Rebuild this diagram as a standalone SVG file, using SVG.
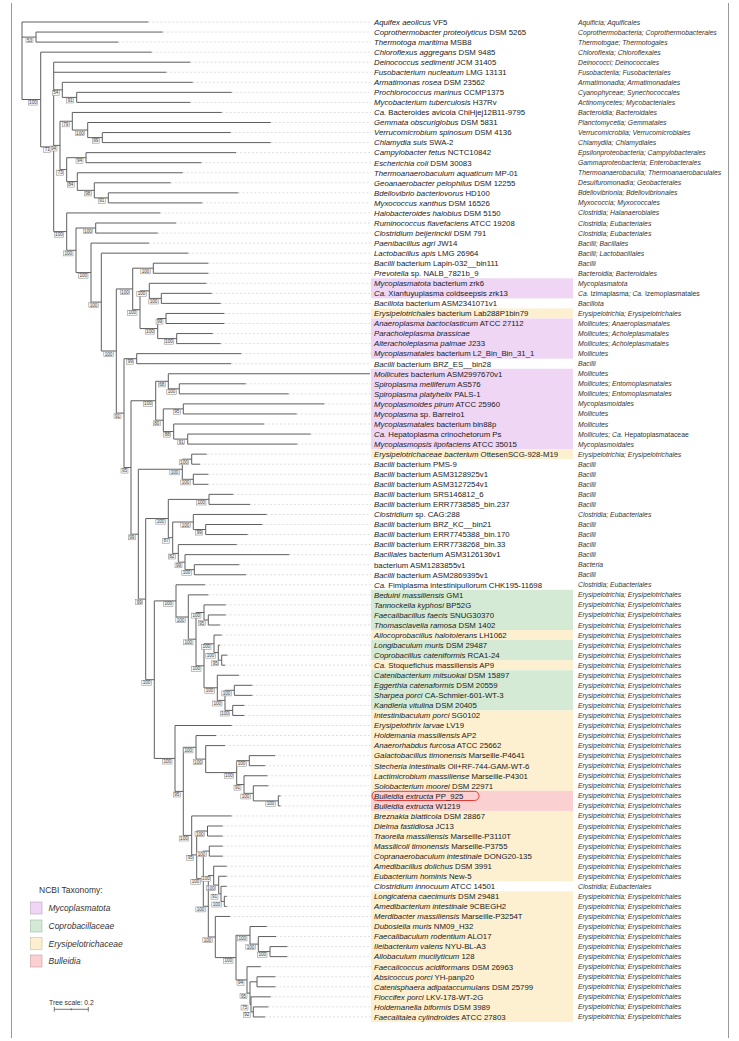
<svg xmlns="http://www.w3.org/2000/svg" width="739" height="1041" viewBox="0 0 739 1041">
<defs>
<style>
.br{stroke:#5e5e5e;stroke-width:1;fill:none}
.ld{stroke:#c9c9c9;stroke-width:0.6;stroke-dasharray:2 2;fill:none}
.nm{font-family:"Liberation Sans",Arial,sans-serif;font-size:7.8px;fill:#1a1a1a}
.tx{font-family:"Liberation Sans",Arial,sans-serif;font-size:6.8px;font-style:italic;fill:#333}
.i{font-style:italic}
.r{font-style:normal}
.hp{fill:#efd6f4}
.hg{fill:#d4ead4}
.hy{fill:#fdf0d0}
.hr{fill:#fbd0d0}
.bs rect{fill:#f6f6f6;stroke:#888;stroke-width:0.5}
.bs text{font-family:"Liberation Sans",Arial,sans-serif;font-size:4.6px;fill:#444;text-anchor:middle}
.lg{font-family:"Liberation Sans",Arial,sans-serif;font-size:8.5px;fill:#333}
.frame{stroke:#999;stroke-width:1;fill:none}
</style>
</defs>
<rect width="739" height="1041" fill="#ffffff"/>
<path class="frame" d="M11.5,3V1038M728.5,3V1038"/>
<g id="highlights">
<rect class="hp" x="371" y="278.28" width="202" height="20.1"/>
<rect class="hy" x="371" y="308.43" width="202" height="10.05"/>
<rect class="hp" x="371" y="318.48" width="202" height="40.2"/>
<rect class="hp" x="371" y="368.73" width="202" height="80.4"/>
<rect class="hy" x="371" y="449.13" width="202" height="10.05"/>
<rect class="hg" x="371" y="589.83" width="202" height="40.2"/>
<rect class="hy" x="371" y="630.03" width="202" height="10.05"/>
<rect class="hg" x="371" y="640.08" width="202" height="20.1"/>
<rect class="hy" x="371" y="660.18" width="202" height="10.05"/>
<rect class="hg" x="371" y="670.23" width="202" height="40.2"/>
<rect class="hy" x="371" y="710.43" width="202" height="80.4"/>
<rect class="hr" x="371" y="790.83" width="202" height="20.1"/>
<rect class="hy" x="371" y="810.93" width="202" height="70.35"/>
<rect class="hy" x="371" y="891.33" width="202" height="130.65"/>
<rect x="372" y="791.3" width="107" height="9.2" rx="4.5" fill="none" stroke="#e53935" stroke-width="1"/>
</g>
<g id="connectors">
<path class="ld" d="M148.3,22H371M162.7,32.05H371M118.3,42.1H371M151.7,52.15H371M190.3,62.2H371M166.3,72.25H371M192.7,82.3H371M231.7,92.35H371M190.3,102.4H371M221.7,112.45H371M270.7,122.5H371M230.7,132.55H371M270.7,142.6H371M236,152.65H371M201.3,162.7H371M182.7,172.75H371M170.7,182.8H371M238.3,192.85H371M202.3,202.9H371M160.3,212.95H371M176,223H371M157.7,233.05H371M149,243.1H371M188.3,253.15H371M208.3,263.2H371M208.3,273.25H371M206.3,283.3H371M211.7,293.35H371M220.7,303.4H371M224.3,313.45H371M224.3,323.5H371M212.7,333.55H371M220.7,343.6H371M241.3,353.65H371M231,363.7H371M245.7,383.8H371M288.7,393.85H371M324.3,403.9H371M296.7,413.95H371M264,424H371M310.7,434.05H371M297.3,444.1H371M206.7,454.15H371M200,464.2H371M208.3,474.25H371M208.3,484.3H371M233.3,494.35H371M250,504.4H371M266.7,514.45H371M262.3,524.5H371M247.7,534.55H371M236.7,544.6H371M289.3,554.65H371M239.3,564.7H371M246,574.75H371M205,584.8H371M208.3,594.85H371M225.7,604.9H371M225.7,614.95H371M220,625H371M221.7,635.05H371M220,645.1H371M227.3,655.15H371M225,665.2H371M239,675.25H371M252.3,685.3H371M252.3,695.35H371M244.3,705.4H371M244.3,715.45H371M231.7,725.5H371M216,735.55H371M225,745.6H371M275,755.65H371M265,765.7H371M267.3,775.75H371M268.3,785.8H371M280.5,795.85H371M280.5,805.9H371M231.7,815.95H371M222.7,826H371M222.7,836.05H371M222.7,846.1H371M222.7,856.15H371M226.7,866.2H371M226.7,876.25H371M226.7,886.3H371M226.7,896.35H371M226.7,906.4H371M230,916.45H371M266.7,926.5H371M276,936.55H371M287.3,946.6H371M287.3,956.65H371M260.7,966.7H371M275.3,976.75H371M275.3,986.8H371M270.7,996.85H371M268.3,1006.9H371M265,1016.95H371"/>
<path class="br" d="M22,22V99.5M22,22H148.3M22,37.1H36M22,99.5H40.7"/>
<path class="br" d="M36,32.05V42.1M36,32.05H162.7M36,42.1H118.3"/>
<path class="br" d="M40.7,52.15V146.9M40.7,52.15H151.7M40.7,146.9H53.7"/>
<path class="br" d="M53.7,62.2V231.6M53.7,62.2H190.3M53.7,72.25H166.3M53.7,89.85H62.3M53.7,145.4H60M53.7,231.6H66.7"/>
<path class="br" d="M62.3,82.3V97.4M62.3,82.3H192.7M62.3,97.4H76.7"/>
<path class="br" d="M76.7,92.35V102.4M76.7,92.35H231.7M76.7,102.4H190.3"/>
<path class="br" d="M60,121.25V169.6M60,121.25H72.3M60,169.6H66.7"/>
<path class="br" d="M72.3,112.45V130.05M72.3,112.45H221.7M72.3,130.05H87.7"/>
<path class="br" d="M87.7,122.5V137.6M87.7,122.5H270.7M87.7,137.6H102.3"/>
<path class="br" d="M102.3,132.55V142.6M102.3,132.55H230.7M102.3,142.6H270.7"/>
<path class="br" d="M66.7,157.7V181.55M66.7,157.7H86M66.7,181.55H77.3"/>
<path class="br" d="M86,152.65V162.7M86,152.65H236M86,162.7H201.3"/>
<path class="br" d="M77.3,172.75V190.35M77.3,172.75H182.7M77.3,190.35H94.3"/>
<path class="br" d="M94.3,182.8V197.9M94.3,182.8H170.7M94.3,197.9H108.3"/>
<path class="br" d="M108.3,192.85V202.9M108.3,192.85H238.3M108.3,202.9H202.3"/>
<path class="br" d="M66.7,212.95V250.3M66.7,212.95H160.3M66.7,250.3H76"/>
<path class="br" d="M76,228V272.6M76,228H95.7M76,272.6H91"/>
<path class="br" d="M95.7,223V233.05M95.7,223H176M95.7,233.05H157.7"/>
<path class="br" d="M91,243.1V302.1M91,243.1H149M91,302.1H101.3"/>
<path class="br" d="M101.3,253.15V351M101.3,253.15H188.3M101.3,351H116.3"/>
<path class="br" d="M116.3,288.95V413.1M116.3,288.95H132.7M116.3,413.1H124"/>
<path class="br" d="M132.7,268.2V309.7M132.7,268.2H153.3M132.7,309.7H140"/>
<path class="br" d="M153.3,263.2V273.25M153.3,263.2H208.3M153.3,273.25H208.3"/>
<path class="br" d="M140,290.85V328.55M140,290.85H149.3M140,328.55H157.7"/>
<path class="br" d="M149.3,283.3V298.4M149.3,283.3H206.3M149.3,298.4H161.3"/>
<path class="br" d="M161.3,293.35V303.4M161.3,293.35H211.7M161.3,303.4H220.7"/>
<path class="br" d="M157.7,318.5V338.6M157.7,318.5H166M157.7,338.6H176.7"/>
<path class="br" d="M166,313.45V323.5M166,313.45H224.3M166,323.5H224.3"/>
<path class="br" d="M176.7,333.55V343.6M176.7,333.55H212.7M176.7,343.6H220.7"/>
<path class="br" d="M124,358.7V467.5M124,358.7H136.7M124,467.5H131"/>
<path class="br" d="M136.7,353.65V363.7M136.7,353.65H241.3M136.7,363.7H231"/>
<path class="br" d="M131,400.75V534.2M131,400.75H155.7M131,534.2H138.3"/>
<path class="br" d="M155.7,381.3V420.2M155.7,381.3H168.3M155.7,420.2H163.3"/>
<path class="br" d="M168.3,373.75V388.8M168.3,373.75H370M168.3,388.8H179.3"/>
<path class="br" d="M179.3,383.8V393.85M179.3,383.8H245.7M179.3,393.85H288.7"/>
<path class="br" d="M163.3,408.9V431.55M163.3,408.9H183.3M163.3,431.55H173.7"/>
<path class="br" d="M183.3,403.9V413.95M183.3,403.9H324.3M183.3,413.95H296.7"/>
<path class="br" d="M173.7,424V439.1M173.7,424H264M173.7,439.1H187.7"/>
<path class="br" d="M187.7,434.05V444.1M187.7,434.05H310.7M187.7,444.1H297.3"/>
<path class="br" d="M138.3,469.25V599.1M138.3,469.25H182.3M138.3,599.1H145.7"/>
<path class="br" d="M182.3,459.2V479.3M182.3,459.2H191.7M182.3,479.3H193.3"/>
<path class="br" d="M191.7,454.15V464.2M191.7,454.15H206.7M191.7,464.2H200"/>
<path class="br" d="M193.3,474.25V484.3M193.3,474.25H208.3M193.3,484.3H208.3"/>
<path class="br" d="M145.7,518.55V679.7M145.7,518.55H168.3M145.7,679.7H154.3"/>
<path class="br" d="M168.3,499.4V537.7M168.3,499.4H209M168.3,537.7H172.7"/>
<path class="br" d="M209,494.35V504.4M209,494.35H233.3M209,504.4H250"/>
<path class="br" d="M172.7,522V553.4M172.7,522H193.3M172.7,553.4H178.3"/>
<path class="br" d="M193.3,514.45V529.5M193.3,514.45H266.7M193.3,529.5H205.7"/>
<path class="br" d="M205.7,524.5V534.55M205.7,524.5H262.3M205.7,534.55H247.7"/>
<path class="br" d="M178.3,544.6V562.2M178.3,544.6H236.7M178.3,562.2H185"/>
<path class="br" d="M185,554.65V569.7M185,554.65H289.3M185,569.7H194.3"/>
<path class="br" d="M194.3,564.7V574.75M194.3,564.7H239.3M194.3,574.75H246"/>
<path class="br" d="M154.3,600.9V758.45M154.3,600.9H176M154.3,758.45H175"/>
<path class="br" d="M176,584.8V617M176,584.8H205M176,617H188.3"/>
<path class="br" d="M188.3,594.85V639.2M188.3,594.85H208.3M188.3,639.2H196"/>
<path class="br" d="M196,612.5V665.8M196,612.5H204M196,665.8H204"/>
<path class="br" d="M204,604.9V620M204,604.9H225.7M204,620H208.3"/>
<path class="br" d="M208.3,614.95V625M208.3,614.95H225.7M208.3,625H220"/>
<path class="br" d="M204,643.8V687.8M204,643.8H214M204,687.8H217.3"/>
<path class="br" d="M214,635.05V652.6M214,635.05H221.7M214,652.6H218.3"/>
<path class="br" d="M218.3,645.1V660.2M218.3,645.1H220M218.3,660.2H221.7"/>
<path class="br" d="M221.7,655.15V665.2M221.7,655.15H227.3M221.7,665.2H225"/>
<path class="br" d="M217.3,675.25V700.4M217.3,675.25H239M217.3,700.4H225"/>
<path class="br" d="M225,690.3V710.4M225,690.3H234.3M225,710.4H232.7"/>
<path class="br" d="M234.3,685.3V695.35M234.3,685.3H252.3M234.3,695.35H252.3"/>
<path class="br" d="M232.7,705.4V715.45M232.7,705.4H244.3M232.7,715.45H244.3"/>
<path class="br" d="M175,725.5V791.4M175,725.5H231.7M175,791.4H183.3"/>
<path class="br" d="M183.3,747.3V835.4M183.3,747.3H196M183.3,835.4H191.7"/>
<path class="br" d="M196,735.55V759.1M196,735.55H216M196,759.1H205.7"/>
<path class="br" d="M205.7,745.6V772.6M205.7,745.6H225M205.7,772.6H236.7"/>
<path class="br" d="M236.7,760.7V784.55M236.7,760.7H249.3M236.7,784.55H244"/>
<path class="br" d="M249.3,755.65V765.7M249.3,755.65H275M249.3,765.7H265"/>
<path class="br" d="M244,775.75V793.35M244,775.75H267.3M244,793.35H253.3"/>
<path class="br" d="M253.3,785.8V800.9M253.3,785.8H268.3M253.3,800.9H278.3"/>
<path class="br" d="M278.3,795.85V805.9M278.3,795.85H280.5M278.3,805.9H280.5"/>
<path class="br" d="M191.7,815.95V854.9M191.7,815.95H231.7M191.7,854.9H196.7"/>
<path class="br" d="M196.7,831V878.7M196.7,831H207.5M196.7,878.7H203.3"/>
<path class="br" d="M207.5,826V836.05M207.5,826H222.7M207.5,836.05H222.7"/>
<path class="br" d="M203.3,851.1V906.3M203.3,851.1H209.3M203.3,906.3H208.3"/>
<path class="br" d="M209.3,846.1V856.15M209.3,846.1H222.7M209.3,856.15H222.7"/>
<path class="br" d="M208.3,875.6V937M208.3,875.6H213.7M208.3,937H215.3"/>
<path class="br" d="M213.7,866.2V885.05M213.7,866.2H226.7M213.7,885.05H218.7"/>
<path class="br" d="M218.7,876.25V893.85M218.7,876.25H226.7M218.7,893.85H221"/>
<path class="br" d="M221,886.3V901.4M221,886.3H226.7M221,901.4H224.3"/>
<path class="br" d="M224.3,896.35V906.4M224.3,896.35H226.7M224.3,906.4H226.7"/>
<path class="br" d="M215.3,916.45V957.6M215.3,916.45H230M215.3,957.6H236"/>
<path class="br" d="M236,935.3V979.9M236,935.3H250M236,979.9H247"/>
<path class="br" d="M250,926.5V944.1M250,926.5H266.7M250,944.1H258.3"/>
<path class="br" d="M258.3,936.55V951.6M258.3,936.55H276M258.3,951.6H270"/>
<path class="br" d="M270,946.6V956.65M270,946.6H287.3M270,956.65H287.3"/>
<path class="br" d="M247,966.7V993.1M247,966.7H260.7M247,993.1H250"/>
<path class="br" d="M250,981.8V1004.4M250,981.8H257M250,1004.4H251"/>
<path class="br" d="M257,976.75V986.8M257,976.75H275.3M257,986.8H275.3"/>
<path class="br" d="M251,996.85V1011.9M251,996.85H270.7M251,1011.9H253.3"/>
<path class="br" d="M253.3,1006.9V1016.95M253.3,1006.9H268.3M253.3,1016.95H265"/>
</g>
<g id="support" class="bs">
<g transform="translate(36,37.1)"><rect x="-10" y="0.6" width="7" height="5"/><text x="-6.5" y="4.6">53</text></g>
<g transform="translate(40.7,99.5)"><rect x="-12.5" y="0.6" width="9.5" height="5"/><text x="-7.75" y="4.6">100</text></g>
<g transform="translate(53.7,146.9)"><rect x="-10" y="0.6" width="7" height="5"/><text x="-6.5" y="4.6">71</text></g>
<g transform="translate(62.3,89.85)"><rect x="-10" y="0.6" width="7" height="5"/><text x="-6.5" y="4.6">54</text></g>
<g transform="translate(76.7,97.4)"><rect x="-10" y="0.6" width="7" height="5"/><text x="-6.5" y="4.6">91</text></g>
<g transform="translate(60,145.4)"><rect x="-10" y="0.6" width="7" height="5"/><text x="-6.5" y="4.6">94</text></g>
<g transform="translate(72.3,121.25)"><rect x="-10" y="0.6" width="7" height="5"/><text x="-6.5" y="4.6">79</text></g>
<g transform="translate(87.7,130.05)"><rect x="-12.5" y="0.6" width="9.5" height="5"/><text x="-7.75" y="4.6">100</text></g>
<g transform="translate(102.3,137.6)"><rect x="-10" y="0.6" width="7" height="5"/><text x="-6.5" y="4.6">99</text></g>
<g transform="translate(66.7,169.6)"><rect x="-10" y="0.6" width="7" height="5"/><text x="-6.5" y="4.6">73</text></g>
<g transform="translate(86,157.7)"><rect x="-10" y="0.6" width="7" height="5"/><text x="-6.5" y="4.6">94</text></g>
<g transform="translate(77.3,181.55)"><rect x="-10" y="0.6" width="7" height="5"/><text x="-6.5" y="4.6">84</text></g>
<g transform="translate(94.3,190.35)"><rect x="-10" y="0.6" width="7" height="5"/><text x="-6.5" y="4.6">98</text></g>
<g transform="translate(108.3,197.9)"><rect x="-10" y="0.6" width="7" height="5"/><text x="-6.5" y="4.6">91</text></g>
<g transform="translate(66.7,231.6)"><rect x="-12.5" y="0.6" width="9.5" height="5"/><text x="-7.75" y="4.6">100</text></g>
<g transform="translate(76,250.3)"><rect x="-12.5" y="0.6" width="9.5" height="5"/><text x="-7.75" y="4.6">100</text></g>
<g transform="translate(95.7,228)"><rect x="-12.5" y="0.6" width="9.5" height="5"/><text x="-7.75" y="4.6">100</text></g>
<g transform="translate(91,272.6)"><rect x="-12.5" y="0.6" width="9.5" height="5"/><text x="-7.75" y="4.6">100</text></g>
<g transform="translate(101.3,302.1)"><rect x="-12.5" y="0.6" width="9.5" height="5"/><text x="-7.75" y="4.6">100</text></g>
<g transform="translate(116.3,351)"><rect x="-12.5" y="0.6" width="9.5" height="5"/><text x="-7.75" y="4.6">100</text></g>
<g transform="translate(132.7,288.95)"><rect x="-12.5" y="0.6" width="9.5" height="5"/><text x="-7.75" y="4.6">100</text></g>
<g transform="translate(153.3,268.2)"><rect x="-12.5" y="0.6" width="9.5" height="5"/><text x="-7.75" y="4.6">100</text></g>
<g transform="translate(140,309.7)"><rect x="-12.5" y="0.6" width="9.5" height="5"/><text x="-7.75" y="4.6">100</text></g>
<g transform="translate(149.3,290.85)"><rect x="-12.5" y="0.6" width="9.5" height="5"/><text x="-7.75" y="4.6">100</text></g>
<g transform="translate(161.3,298.4)"><rect x="-12.5" y="0.6" width="9.5" height="5"/><text x="-7.75" y="4.6">100</text></g>
<g transform="translate(157.7,328.55)"><rect x="-12.5" y="0.6" width="9.5" height="5"/><text x="-7.75" y="4.6">100</text></g>
<g transform="translate(166,318.5)"><rect x="-10" y="0.6" width="7" height="5"/><text x="-6.5" y="4.6">99</text></g>
<g transform="translate(176.7,338.6)"><rect x="-12.5" y="0.6" width="9.5" height="5"/><text x="-7.75" y="4.6">100</text></g>
<g transform="translate(124,413.1)"><rect x="-10" y="0.6" width="7" height="5"/><text x="-6.5" y="4.6">91</text></g>
<g transform="translate(136.7,358.7)"><rect x="-10" y="0.6" width="7" height="5"/><text x="-6.5" y="4.6">99</text></g>
<g transform="translate(131,467.5)"><rect x="-10" y="0.6" width="7" height="5"/><text x="-6.5" y="4.6">95</text></g>
<g transform="translate(155.7,400.75)"><rect x="-12.5" y="0.6" width="9.5" height="5"/><text x="-7.75" y="4.6">100</text></g>
<g transform="translate(168.3,381.3)"><rect x="-10" y="0.6" width="7" height="5"/><text x="-6.5" y="4.6">68</text></g>
<g transform="translate(179.3,388.8)"><rect x="-12.5" y="0.6" width="9.5" height="5"/><text x="-7.75" y="4.6">100</text></g>
<g transform="translate(163.3,420.2)"><rect x="-10" y="0.6" width="7" height="5"/><text x="-6.5" y="4.6">80</text></g>
<g transform="translate(183.3,408.9)"><rect x="-10" y="0.6" width="7" height="5"/><text x="-6.5" y="4.6">95</text></g>
<g transform="translate(173.7,431.55)"><rect x="-10" y="0.6" width="7" height="5"/><text x="-6.5" y="4.6">88</text></g>
<g transform="translate(187.7,439.1)"><rect x="-10" y="0.6" width="7" height="5"/><text x="-6.5" y="4.6">91</text></g>
<g transform="translate(138.3,534.2)"><rect x="-10" y="0.6" width="7" height="5"/><text x="-6.5" y="4.6">99</text></g>
<g transform="translate(182.3,469.25)"><rect x="-12.5" y="0.6" width="9.5" height="5"/><text x="-7.75" y="4.6">100</text></g>
<g transform="translate(191.7,459.2)"><rect x="-12.5" y="0.6" width="9.5" height="5"/><text x="-7.75" y="4.6">100</text></g>
<g transform="translate(193.3,479.3)"><rect x="-12.5" y="0.6" width="9.5" height="5"/><text x="-7.75" y="4.6">100</text></g>
<g transform="translate(145.7,599.1)"><rect x="-10" y="0.6" width="7" height="5"/><text x="-6.5" y="4.6">99</text></g>
<g transform="translate(168.3,518.55)"><rect x="-12.5" y="0.6" width="9.5" height="5"/><text x="-7.75" y="4.6">100</text></g>
<g transform="translate(209,499.4)"><rect x="-12.5" y="0.6" width="9.5" height="5"/><text x="-7.75" y="4.6">100</text></g>
<g transform="translate(172.7,537.7)"><rect x="-10" y="0.6" width="7" height="5"/><text x="-6.5" y="4.6">87</text></g>
<g transform="translate(193.3,522)"><rect x="-12.5" y="0.6" width="9.5" height="5"/><text x="-7.75" y="4.6">100</text></g>
<g transform="translate(205.7,529.5)"><rect x="-10" y="0.6" width="7" height="5"/><text x="-6.5" y="4.6">99</text></g>
<g transform="translate(178.3,553.4)"><rect x="-10" y="0.6" width="7" height="5"/><text x="-6.5" y="4.6">82</text></g>
<g transform="translate(185,562.2)"><rect x="-10" y="0.6" width="7" height="5"/><text x="-6.5" y="4.6">99</text></g>
<g transform="translate(194.3,569.7)"><rect x="-12.5" y="0.6" width="9.5" height="5"/><text x="-7.75" y="4.6">100</text></g>
<g transform="translate(154.3,679.7)"><rect x="-12.5" y="0.6" width="9.5" height="5"/><text x="-7.75" y="4.6">100</text></g>
<g transform="translate(176,600.9)"><rect x="-12.5" y="0.6" width="9.5" height="5"/><text x="-7.75" y="4.6">100</text></g>
<g transform="translate(188.3,617)"><rect x="-12.5" y="0.6" width="9.5" height="5"/><text x="-7.75" y="4.6">100</text></g>
<g transform="translate(196,639.2)"><rect x="-12.5" y="0.6" width="9.5" height="5"/><text x="-7.75" y="4.6">100</text></g>
<g transform="translate(204,612.5)"><rect x="-12.5" y="0.6" width="9.5" height="5"/><text x="-7.75" y="4.6">100</text></g>
<g transform="translate(208.3,620)"><rect x="-10" y="0.6" width="7" height="5"/><text x="-6.5" y="4.6">95</text></g>
<g transform="translate(204,665.8)"><rect x="-12.5" y="0.6" width="9.5" height="5"/><text x="-7.75" y="4.6">100</text></g>
<g transform="translate(214,643.8)"><rect x="-12.5" y="0.6" width="9.5" height="5"/><text x="-7.75" y="4.6">100</text></g>
<g transform="translate(218.3,652.6)"><rect x="-12.5" y="0.6" width="9.5" height="5"/><text x="-7.75" y="4.6">100</text></g>
<g transform="translate(221.7,660.2)"><rect x="-10" y="0.6" width="7" height="5"/><text x="-6.5" y="4.6">95</text></g>
<g transform="translate(217.3,687.8)"><rect x="-12.5" y="0.6" width="9.5" height="5"/><text x="-7.75" y="4.6">100</text></g>
<g transform="translate(225,700.4)"><rect x="-12.5" y="0.6" width="9.5" height="5"/><text x="-7.75" y="4.6">100</text></g>
<g transform="translate(234.3,690.3)"><rect x="-12.5" y="0.6" width="9.5" height="5"/><text x="-7.75" y="4.6">100</text></g>
<g transform="translate(232.7,710.4)"><rect x="-12.5" y="0.6" width="9.5" height="5"/><text x="-7.75" y="4.6">100</text></g>
<g transform="translate(175,758.45)"><rect x="-12.5" y="0.6" width="9.5" height="5"/><text x="-7.75" y="4.6">100</text></g>
<g transform="translate(183.3,791.4)"><rect x="-10" y="0.6" width="7" height="5"/><text x="-6.5" y="4.6">95</text></g>
<g transform="translate(196,747.3)"><rect x="-12.5" y="0.6" width="9.5" height="5"/><text x="-7.75" y="4.6">100</text></g>
<g transform="translate(205.7,759.1)"><rect x="-12.5" y="0.6" width="9.5" height="5"/><text x="-7.75" y="4.6">100</text></g>
<g transform="translate(236.7,772.6)"><rect x="-12.5" y="0.6" width="9.5" height="5"/><text x="-7.75" y="4.6">100</text></g>
<g transform="translate(249.3,760.7)"><rect x="-12.5" y="0.6" width="9.5" height="5"/><text x="-7.75" y="4.6">100</text></g>
<g transform="translate(244,784.55)"><rect x="-10" y="0.6" width="7" height="5"/><text x="-6.5" y="4.6">91</text></g>
<g transform="translate(253.3,793.35)"><rect x="-12.5" y="0.6" width="9.5" height="5"/><text x="-7.75" y="4.6">100</text></g>
<g transform="translate(278.3,800.9)"><rect x="-12.5" y="0.6" width="9.5" height="5"/><text x="-7.75" y="4.6">100</text></g>
<g transform="translate(191.7,835.4)"><rect x="-12.5" y="0.6" width="9.5" height="5"/><text x="-7.75" y="4.6">100</text></g>
<g transform="translate(196.7,854.9)"><rect x="-10" y="0.6" width="7" height="5"/><text x="-6.5" y="4.6">95</text></g>
<g transform="translate(207.5,831)"><rect x="-12.5" y="0.6" width="9.5" height="5"/><text x="-7.75" y="4.6">100</text></g>
<g transform="translate(203.3,878.7)"><rect x="-12.5" y="0.6" width="9.5" height="5"/><text x="-7.75" y="4.6">100</text></g>
<g transform="translate(209.3,851.1)"><rect x="-12.5" y="0.6" width="9.5" height="5"/><text x="-7.75" y="4.6">100</text></g>
<g transform="translate(208.3,906.3)"><rect x="-12.5" y="0.6" width="9.5" height="5"/><text x="-7.75" y="4.6">100</text></g>
<g transform="translate(213.7,875.6)"><rect x="-12.5" y="0.6" width="9.5" height="5"/><text x="-7.75" y="4.6">100</text></g>
<g transform="translate(218.7,885.05)"><rect x="-12.5" y="0.6" width="9.5" height="5"/><text x="-7.75" y="4.6">100</text></g>
<g transform="translate(221,893.85)"><rect x="-10" y="0.6" width="7" height="5"/><text x="-6.5" y="4.6">91</text></g>
<g transform="translate(224.3,901.4)"><rect x="-12.5" y="0.6" width="9.5" height="5"/><text x="-7.75" y="4.6">100</text></g>
<g transform="translate(215.3,937)"><rect x="-12.5" y="0.6" width="9.5" height="5"/><text x="-7.75" y="4.6">100</text></g>
<g transform="translate(236,957.6)"><rect x="-12.5" y="0.6" width="9.5" height="5"/><text x="-7.75" y="4.6">100</text></g>
<g transform="translate(250,935.3)"><rect x="-12.5" y="0.6" width="9.5" height="5"/><text x="-7.75" y="4.6">100</text></g>
<g transform="translate(258.3,944.1)"><rect x="-12.5" y="0.6" width="9.5" height="5"/><text x="-7.75" y="4.6">100</text></g>
<g transform="translate(270,951.6)"><rect x="-12.5" y="0.6" width="9.5" height="5"/><text x="-7.75" y="4.6">100</text></g>
<g transform="translate(247,979.9)"><rect x="-10" y="0.6" width="7" height="5"/><text x="-6.5" y="4.6">94</text></g>
<g transform="translate(250,993.1)"><rect x="-10" y="0.6" width="7" height="5"/><text x="-6.5" y="4.6">95</text></g>
<g transform="translate(251,1004.4)"><rect x="-10" y="0.6" width="7" height="5"/><text x="-6.5" y="4.6">75</text></g>
<g transform="translate(253.3,1011.9)"><rect x="-10" y="0.6" width="7" height="5"/><text x="-6.5" y="4.6">92</text></g>
</g>
<g id="tips">
<g id="tip001" transform="translate(0,22)"><text class="nm" x="374" y="2.8"><tspan class="i">Aquifex aeolicus</tspan> VF5</text><text class="tx" x="578" y="2.5">Aquificia; Aquificales</text></g>
<g id="tip002" transform="translate(0,32.05)"><text class="nm" x="374" y="2.8"><tspan class="i">Coprothermobacter proteolyticus</tspan> DSM 5265</text><text class="tx" x="578" y="2.5">Coprothermobacteria; Coprothermobacterales</text></g>
<g id="tip003" transform="translate(0,42.1)"><text class="nm" x="374" y="2.8"><tspan class="i">Thermotoga maritima</tspan> MSB8</text><text class="tx" x="578" y="2.5">Thermotogae; Thermotogales</text></g>
<g id="tip004" transform="translate(0,52.15)"><text class="nm" x="374" y="2.8"><tspan class="i">Chloroflexus aggregans</tspan> DSM 9485</text><text class="tx" x="578" y="2.5">Chloroflexia; Chloroflexales</text></g>
<g id="tip005" transform="translate(0,62.2)"><text class="nm" x="374" y="2.8"><tspan class="i">Deinococcus sedimenti</tspan> JCM 31405</text><text class="tx" x="578" y="2.5">Deinococci; Deinococcales</text></g>
<g id="tip006" transform="translate(0,72.25)"><text class="nm" x="374" y="2.8"><tspan class="i">Fusobacterium nucleatum</tspan> LMG 13131</text><text class="tx" x="578" y="2.5">Fusobacteriia; Fusobacteriales</text></g>
<g id="tip007" transform="translate(0,82.3)"><text class="nm" x="374" y="2.8"><tspan class="i">Armatimonas rosea</tspan> DSM 23562</text><text class="tx" x="578" y="2.5">Armatimonadia; Armatimonadales</text></g>
<g id="tip008" transform="translate(0,92.35)"><text class="nm" x="374" y="2.8"><tspan class="i">Prochlorococcus marinus</tspan> CCMP1375</text><text class="tx" x="578" y="2.5">Cyanophyceae; Synechococcales</text></g>
<g id="tip009" transform="translate(0,102.4)"><text class="nm" x="374" y="2.8"><tspan class="i">Mycobacterium tuberculosis</tspan> H37Rv</text><text class="tx" x="578" y="2.5">Actinomycetes; Mycobacteriales</text></g>
<g id="tip010" transform="translate(0,112.45)"><text class="nm" x="374" y="2.8"><tspan class="i">Ca.</tspan> Bacteroides avicola ChiHjej12B11-9795</text><text class="tx" x="578" y="2.5">Bacteroidia; Bacteroidales</text></g>
<g id="tip011" transform="translate(0,122.5)"><text class="nm" x="374" y="2.8"><tspan class="i">Gemmata obscuriglobus</tspan> DSM 5831</text><text class="tx" x="578" y="2.5">Planctomycetia; Gemmatales</text></g>
<g id="tip012" transform="translate(0,132.55)"><text class="nm" x="374" y="2.8"><tspan class="i">Verrucomicrobium spinosum</tspan> DSM 4136</text><text class="tx" x="578" y="2.5">Verrucomicrobiia; Verrucomicrobiales</text></g>
<g id="tip013" transform="translate(0,142.6)"><text class="nm" x="374" y="2.8"><tspan class="i">Chlamydia suis</tspan> SWA-2</text><text class="tx" x="578" y="2.5">Chlamydiia; Chlamydiales</text></g>
<g id="tip014" transform="translate(0,152.65)"><text class="nm" x="374" y="2.8"><tspan class="i">Campylobacter fetus</tspan> NCTC10842</text><text class="tx" x="578" y="2.5">Epsilonproteobacteria; Campylobacterales</text></g>
<g id="tip015" transform="translate(0,162.7)"><text class="nm" x="374" y="2.8"><tspan class="i">Escherichia coli</tspan> DSM 30083</text><text class="tx" x="578" y="2.5">Gammaproteobacteria; Enterobacterales</text></g>
<g id="tip016" transform="translate(0,172.75)"><text class="nm" x="374" y="2.8"><tspan class="i">Thermoanaerobaculum aquaticum</tspan> MP-01</text><text class="tx" x="578" y="2.5">Thermoanaerobaculia; Thermoanaerobaculales</text></g>
<g id="tip017" transform="translate(0,182.8)"><text class="nm" x="374" y="2.8"><tspan class="i">Geoanaerobacter pelophilus</tspan> DSM 12255</text><text class="tx" x="578" y="2.5">Desulfuromonadia; Geobacterales</text></g>
<g id="tip018" transform="translate(0,192.85)"><text class="nm" x="374" y="2.8"><tspan class="i">Bdellovibrio bacteriovorus</tspan> HD100</text><text class="tx" x="578" y="2.5">Bdellovibrionia; Bdellovibrionales</text></g>
<g id="tip019" transform="translate(0,202.9)"><text class="nm" x="374" y="2.8"><tspan class="i">Myxococcus xanthus</tspan> DSM 16526</text><text class="tx" x="578" y="2.5">Myxococcia; Myxococcales</text></g>
<g id="tip020" transform="translate(0,212.95)"><text class="nm" x="374" y="2.8"><tspan class="i">Halobacteroides halobius</tspan> DSM 5150</text><text class="tx" x="578" y="2.5">Clostridia; Halanaerobiales</text></g>
<g id="tip021" transform="translate(0,223)"><text class="nm" x="374" y="2.8"><tspan class="i">Ruminococcus flavefaciens</tspan> ATCC 19208</text><text class="tx" x="578" y="2.5">Clostridia; Eubacteriales</text></g>
<g id="tip022" transform="translate(0,233.05)"><text class="nm" x="374" y="2.8"><tspan class="i">Clostridium beijerinckii</tspan> DSM 791</text><text class="tx" x="578" y="2.5">Clostridia; Eubacteriales</text></g>
<g id="tip023" transform="translate(0,243.1)"><text class="nm" x="374" y="2.8"><tspan class="i">Paenibacillus agri</tspan> JW14</text><text class="tx" x="578" y="2.5">Bacilli; Bacillales</text></g>
<g id="tip024" transform="translate(0,253.15)"><text class="nm" x="374" y="2.8"><tspan class="i">Lactobacillus apis</tspan> LMG 26964</text><text class="tx" x="578" y="2.5">Bacilli; Lactobacillales</text></g>
<g id="tip025" transform="translate(0,263.2)"><text class="nm" x="374" y="2.8"><tspan class="i">Bacilli</tspan> bacterium Lapin-032__bin111</text><text class="tx" x="578" y="2.5">Bacilli</text></g>
<g id="tip026" transform="translate(0,273.25)"><text class="nm" x="374" y="2.8"><tspan class="i">Prevotella</tspan> sp. NALB_7821b_9</text><text class="tx" x="578" y="2.5">Bacteroidia; Bacteroidales</text></g>
<g id="tip027" transform="translate(0,283.3)"><text class="nm" x="374" y="2.8"><tspan class="i">Mycoplasmatota</tspan> bacterium zrk6</text><text class="tx" x="578" y="2.5">Mycoplasmatota</text></g>
<g id="tip028" transform="translate(0,293.35)"><text class="nm" x="374" y="2.8"><tspan class="i">Ca.</tspan> Xianfuyuplasma coldseepsis zrk13</text><text class="tx" x="578" y="2.5">Ca. <tspan class="r">Izimaplasma</tspan>; Ca. <tspan class="r">Izemoplasmatales</tspan></text></g>
<g id="tip029" transform="translate(0,303.4)"><text class="nm" x="374" y="2.8"><tspan class="i">Bacillota</tspan> bacterium ASM2341071v1</text><text class="tx" x="578" y="2.5">Bacillota</text></g>
<g id="tip030" transform="translate(0,313.45)"><text class="nm" x="374" y="2.8"><tspan class="i">Erysipelotrichales</tspan> bacterium Lab288P1bin79</text><text class="tx" x="578" y="2.5">Erysipelotrichia; Erysipelotrichales</text></g>
<g id="tip031" transform="translate(0,323.5)"><text class="nm" x="374" y="2.8"><tspan class="i">Anaeroplasma bactoclasticum</tspan> ATCC 27112</text><text class="tx" x="578" y="2.5">Mollicutes; Anaeroplasmatales</text></g>
<g id="tip032" transform="translate(0,333.55)"><text class="nm" x="374" y="2.8"><tspan class="i">Paracholeplasma brassicae</tspan></text><text class="tx" x="578" y="2.5">Mollicutes; Acholeplasmatales</text></g>
<g id="tip033" transform="translate(0,343.6)"><text class="nm" x="374" y="2.8"><tspan class="i">Alteracholeplasma palmae</tspan> J233</text><text class="tx" x="578" y="2.5">Mollicutes; Acholeplasmatales</text></g>
<g id="tip034" transform="translate(0,353.65)"><text class="nm" x="374" y="2.8"><tspan class="i">Mycoplasmatales</tspan> bacterium L2_Bin_Bin_31_1</text><text class="tx" x="578" y="2.5">Mollicutes</text></g>
<g id="tip035" transform="translate(0,363.7)"><text class="nm" x="374" y="2.8"><tspan class="i">Bacilli</tspan> bacterium BRZ_ES__bin28</text><text class="tx" x="578" y="2.5">Bacilli</text></g>
<g id="tip036" transform="translate(0,373.75)"><text class="nm" x="374" y="2.8"><tspan class="i">Mollicutes</tspan> bacterium ASM2997670v1</text><text class="tx" x="578" y="2.5">Mollicutes</text></g>
<g id="tip037" transform="translate(0,383.8)"><text class="nm" x="374" y="2.8"><tspan class="i">Spiroplasma melliferum</tspan> AS576</text><text class="tx" x="578" y="2.5">Mollicutes; Entomoplasmatales</text></g>
<g id="tip038" transform="translate(0,393.85)"><text class="nm" x="374" y="2.8"><tspan class="i">Spiroplasma platyhelix</tspan> PALS-1</text><text class="tx" x="578" y="2.5">Mollicutes; Entomoplasmatales</text></g>
<g id="tip039" transform="translate(0,403.9)"><text class="nm" x="374" y="2.8"><tspan class="i">Mycoplasmoides pirum</tspan> ATCC 25960</text><text class="tx" x="578" y="2.5">Mycoplasmoidales</text></g>
<g id="tip040" transform="translate(0,413.95)"><text class="nm" x="374" y="2.8"><tspan class="i">Mycoplasma</tspan> sp. Barreiro1</text><text class="tx" x="578" y="2.5">Mollicutes</text></g>
<g id="tip041" transform="translate(0,424)"><text class="nm" x="374" y="2.8"><tspan class="i">Mycoplasmatales</tspan> bacterium bin88p</text><text class="tx" x="578" y="2.5">Mollicutes</text></g>
<g id="tip042" transform="translate(0,434.05)"><text class="nm" x="374" y="2.8"><tspan class="i">Ca.</tspan> Hepatoplasma crinochetorum Ps</text><text class="tx" x="578" y="2.5">Mollicutes; Ca. <tspan class="r">Hepatoplasmataceae</tspan></text></g>
<g id="tip043" transform="translate(0,444.1)"><text class="nm" x="374" y="2.8"><tspan class="i">Mycoplasmopsis lipofaciens</tspan> ATCC 35015</text><text class="tx" x="578" y="2.5">Mycoplasmoidales</text></g>
<g id="tip044" transform="translate(0,454.15)"><text class="nm" x="374" y="2.8"><tspan class="i">Erysipelotrichaceae bacterium</tspan> OttesenSCG-928-M19</text><text class="tx" x="578" y="2.5">Erysipelotrichia; Erysipelotrichales</text></g>
<g id="tip045" transform="translate(0,464.2)"><text class="nm" x="374" y="2.8"><tspan class="i">Bacilli</tspan> bacterium PMS-9</text><text class="tx" x="578" y="2.5">Bacilli</text></g>
<g id="tip046" transform="translate(0,474.25)"><text class="nm" x="374" y="2.8"><tspan class="i">Bacilli</tspan> bacterium ASM3128925v1</text><text class="tx" x="578" y="2.5">Bacilli</text></g>
<g id="tip047" transform="translate(0,484.3)"><text class="nm" x="374" y="2.8"><tspan class="i">Bacilli</tspan> bacterium ASM3127254v1</text><text class="tx" x="578" y="2.5">Bacilli</text></g>
<g id="tip048" transform="translate(0,494.35)"><text class="nm" x="374" y="2.8"><tspan class="i">Bacilli</tspan> bacterium SRS146812_6</text><text class="tx" x="578" y="2.5">Bacilli</text></g>
<g id="tip049" transform="translate(0,504.4)"><text class="nm" x="374" y="2.8"><tspan class="i">Bacilli</tspan> bacterium ERR7738585_bin.237</text><text class="tx" x="578" y="2.5">Bacilli</text></g>
<g id="tip050" transform="translate(0,514.45)"><text class="nm" x="374" y="2.8"><tspan class="i">Clostridium</tspan> sp. CAG:288</text><text class="tx" x="578" y="2.5">Clostridia; Eubacteriales</text></g>
<g id="tip051" transform="translate(0,524.5)"><text class="nm" x="374" y="2.8"><tspan class="i">Bacilli</tspan> bacterium BRZ_KC__bin21</text><text class="tx" x="578" y="2.5">Bacilli</text></g>
<g id="tip052" transform="translate(0,534.55)"><text class="nm" x="374" y="2.8"><tspan class="i">Bacilli</tspan> bacterium ERR7745388_bin.170</text><text class="tx" x="578" y="2.5">Bacilli</text></g>
<g id="tip053" transform="translate(0,544.6)"><text class="nm" x="374" y="2.8"><tspan class="i">Bacilli</tspan> bacterium ERR7738268_bin.33</text><text class="tx" x="578" y="2.5">Bacilli</text></g>
<g id="tip054" transform="translate(0,554.65)"><text class="nm" x="374" y="2.8"><tspan class="i">Bacillales</tspan> bacterium ASM3126136v1</text><text class="tx" x="578" y="2.5">Bacilli</text></g>
<g id="tip055" transform="translate(0,564.7)"><text class="nm" x="374" y="2.8">bacterium ASM1283855v1</text><text class="tx" x="578" y="2.5">Bacteria</text></g>
<g id="tip056" transform="translate(0,574.75)"><text class="nm" x="374" y="2.8"><tspan class="i">Bacilli</tspan> bacterium ASM2869395v1</text><text class="tx" x="578" y="2.5">Bacilli</text></g>
<g id="tip057" transform="translate(0,584.8)"><text class="nm" x="374" y="2.8"><tspan class="i">Ca.</tspan> Fimiplasma intestinipullorum CHK195-11698</text><text class="tx" x="578" y="2.5">Clostridia; Eubacteriales</text></g>
<g id="tip058" transform="translate(0,594.85)"><text class="nm" x="374" y="2.8"><tspan class="i">Beduini massiliensis</tspan> GM1</text><text class="tx" x="578" y="2.5">Erysipelotrichia; Erysipelotrichales</text></g>
<g id="tip059" transform="translate(0,604.9)"><text class="nm" x="374" y="2.8"><tspan class="i">Tannockella kyphosi</tspan> BP52G</text><text class="tx" x="578" y="2.5">Erysipelotrichia; Erysipelotrichales</text></g>
<g id="tip060" transform="translate(0,614.95)"><text class="nm" x="374" y="2.8"><tspan class="i">Faecalibacillus faecis</tspan> SNUG30370</text><text class="tx" x="578" y="2.5">Erysipelotrichia; Erysipelotrichales</text></g>
<g id="tip061" transform="translate(0,625)"><text class="nm" x="374" y="2.8"><tspan class="i">Thomasclavelia ramosa</tspan> DSM 1402</text><text class="tx" x="578" y="2.5">Erysipelotrichia; Erysipelotrichales</text></g>
<g id="tip062" transform="translate(0,635.05)"><text class="nm" x="374" y="2.8"><tspan class="i">Allocoprobacillus halotolerans</tspan> LH1062</text><text class="tx" x="578" y="2.5">Erysipelotrichia; Erysipelotrichales</text></g>
<g id="tip063" transform="translate(0,645.1)"><text class="nm" x="374" y="2.8"><tspan class="i">Longibaculum muris</tspan> DSM 29487</text><text class="tx" x="578" y="2.5">Erysipelotrichia; Erysipelotrichales</text></g>
<g id="tip064" transform="translate(0,655.15)"><text class="nm" x="374" y="2.8"><tspan class="i">Coprobacillus cateniformis</tspan> RCA1-24</text><text class="tx" x="578" y="2.5">Erysipelotrichia; Erysipelotrichales</text></g>
<g id="tip065" transform="translate(0,665.2)"><text class="nm" x="374" y="2.8"><tspan class="i">Ca.</tspan> Stoquefichus massiliensis AP9</text><text class="tx" x="578" y="2.5">Erysipelotrichia; Erysipelotrichales</text></g>
<g id="tip066" transform="translate(0,675.25)"><text class="nm" x="374" y="2.8"><tspan class="i">Catenibacterium mitsuokai</tspan> DSM 15897</text><text class="tx" x="578" y="2.5">Erysipelotrichia; Erysipelotrichales</text></g>
<g id="tip067" transform="translate(0,685.3)"><text class="nm" x="374" y="2.8"><tspan class="i">Eggerthia catenaformis</tspan> DSM 20559</text><text class="tx" x="578" y="2.5">Erysipelotrichia; Erysipelotrichales</text></g>
<g id="tip068" transform="translate(0,695.35)"><text class="nm" x="374" y="2.8"><tspan class="i">Sharpea porci</tspan> CA-Schmier-601-WT-3</text><text class="tx" x="578" y="2.5">Erysipelotrichia; Erysipelotrichales</text></g>
<g id="tip069" transform="translate(0,705.4)"><text class="nm" x="374" y="2.8"><tspan class="i">Kandleria vitulina</tspan> DSM 20405</text><text class="tx" x="578" y="2.5">Erysipelotrichia; Erysipelotrichales</text></g>
<g id="tip070" transform="translate(0,715.45)"><text class="nm" x="374" y="2.8"><tspan class="i">Intestinibaculum porci</tspan> SG0102</text><text class="tx" x="578" y="2.5">Erysipelotrichia; Erysipelotrichales</text></g>
<g id="tip071" transform="translate(0,725.5)"><text class="nm" x="374" y="2.8"><tspan class="i">Erysipelothrix larvae</tspan> LV19</text><text class="tx" x="578" y="2.5">Erysipelotrichia; Erysipelotrichales</text></g>
<g id="tip072" transform="translate(0,735.55)"><text class="nm" x="374" y="2.8"><tspan class="i">Holdemania massiliensis</tspan> AP2</text><text class="tx" x="578" y="2.5">Erysipelotrichia; Erysipelotrichales</text></g>
<g id="tip073" transform="translate(0,745.6)"><text class="nm" x="374" y="2.8"><tspan class="i">Anaerorhabdus furcosa</tspan> ATCC 25662</text><text class="tx" x="578" y="2.5">Erysipelotrichia; Erysipelotrichales</text></g>
<g id="tip074" transform="translate(0,755.65)"><text class="nm" x="374" y="2.8"><tspan class="i">Galactobacillus timonensis</tspan> Marseille-P4641</text><text class="tx" x="578" y="2.5">Erysipelotrichia; Erysipelotrichales</text></g>
<g id="tip075" transform="translate(0,765.7)"><text class="nm" x="374" y="2.8"><tspan class="i">Stecheria intestinalis</tspan> Oil+RF-744-GAM-WT-6</text><text class="tx" x="578" y="2.5">Erysipelotrichia; Erysipelotrichales</text></g>
<g id="tip076" transform="translate(0,775.75)"><text class="nm" x="374" y="2.8"><tspan class="i">Lactimicrobium massiliense</tspan> Marseille-P4301</text><text class="tx" x="578" y="2.5">Erysipelotrichia; Erysipelotrichales</text></g>
<g id="tip077" transform="translate(0,785.8)"><text class="nm" x="374" y="2.8"><tspan class="i">Solobacterium moorei</tspan> DSM 22971</text><text class="tx" x="578" y="2.5">Erysipelotrichia; Erysipelotrichales</text></g>
<g id="tip078" transform="translate(0,795.85)"><text class="nm" x="374" y="2.8"><tspan class="i">Bulleidia extructa</tspan> PP_925</text><text class="tx" x="578" y="2.5">Erysipelotrichia; Erysipelotrichales</text></g>
<g id="tip079" transform="translate(0,805.9)"><text class="nm" x="374" y="2.8"><tspan class="i">Bulleidia extructa</tspan> W1219</text><text class="tx" x="578" y="2.5">Erysipelotrichia; Erysipelotrichales</text></g>
<g id="tip080" transform="translate(0,815.95)"><text class="nm" x="374" y="2.8"><tspan class="i">Breznakia blatticola</tspan> DSM 28867</text><text class="tx" x="578" y="2.5">Erysipelotrichia; Erysipelotrichales</text></g>
<g id="tip081" transform="translate(0,826)"><text class="nm" x="374" y="2.8"><tspan class="i">Dielma fastidiosa</tspan> JC13</text><text class="tx" x="578" y="2.5">Erysipelotrichia; Erysipelotrichales</text></g>
<g id="tip082" transform="translate(0,836.05)"><text class="nm" x="374" y="2.8"><tspan class="i">Traorella massiliensis</tspan> Marseille-P3110T</text><text class="tx" x="578" y="2.5">Erysipelotrichia; Erysipelotrichales</text></g>
<g id="tip083" transform="translate(0,846.1)"><text class="nm" x="374" y="2.8"><tspan class="i">Massilicoli timonensis</tspan> Marseille-P3755</text><text class="tx" x="578" y="2.5">Erysipelotrichia; Erysipelotrichales</text></g>
<g id="tip084" transform="translate(0,856.15)"><text class="nm" x="374" y="2.8"><tspan class="i">Copranaerobaculum intestinale</tspan> DONG20-135</text><text class="tx" x="578" y="2.5">Erysipelotrichia; Erysipelotrichales</text></g>
<g id="tip085" transform="translate(0,866.2)"><text class="nm" x="374" y="2.8"><tspan class="i">Amedibacillus dolichus</tspan> DSM 3991</text><text class="tx" x="578" y="2.5">Erysipelotrichia; Erysipelotrichales</text></g>
<g id="tip086" transform="translate(0,876.25)"><text class="nm" x="374" y="2.8"><tspan class="i">Eubacterium hominis</tspan> New-5</text><text class="tx" x="578" y="2.5">Erysipelotrichia; Erysipelotrichales</text></g>
<g id="tip087" transform="translate(0,886.3)"><text class="nm" x="374" y="2.8"><tspan class="i">Clostridium innocuum</tspan> ATCC 14501</text><text class="tx" x="578" y="2.5">Clostridia; Eubacteriales</text></g>
<g id="tip088" transform="translate(0,896.35)"><text class="nm" x="374" y="2.8"><tspan class="i">Longicatena caecimuris</tspan> DSM 29481</text><text class="tx" x="578" y="2.5">Erysipelotrichia; Erysipelotrichales</text></g>
<g id="tip089" transform="translate(0,906.4)"><text class="nm" x="374" y="2.8"><tspan class="i">Amedibacterium intestinale</tspan> 9CBEGH2</text><text class="tx" x="578" y="2.5">Erysipelotrichia; Erysipelotrichales</text></g>
<g id="tip090" transform="translate(0,916.45)"><text class="nm" x="374" y="2.8"><tspan class="i">Merdibacter massiliensis</tspan> Marseille-P3254T</text><text class="tx" x="578" y="2.5">Erysipelotrichia; Erysipelotrichales</text></g>
<g id="tip091" transform="translate(0,926.5)"><text class="nm" x="374" y="2.8"><tspan class="i">Dubosiella muris</tspan> NM09_H32</text><text class="tx" x="578" y="2.5">Erysipelotrichia; Erysipelotrichales</text></g>
<g id="tip092" transform="translate(0,936.55)"><text class="nm" x="374" y="2.8"><tspan class="i">Faecalibaculum rodentium</tspan> ALO17</text><text class="tx" x="578" y="2.5">Erysipelotrichia; Erysipelotrichales</text></g>
<g id="tip093" transform="translate(0,946.6)"><text class="nm" x="374" y="2.8"><tspan class="i">Ileibacterium valens</tspan> NYU-BL-A3</text><text class="tx" x="578" y="2.5">Erysipelotrichia; Erysipelotrichales</text></g>
<g id="tip094" transform="translate(0,956.65)"><text class="nm" x="374" y="2.8"><tspan class="i">Allobaculum mucilyticum</tspan> 128</text><text class="tx" x="578" y="2.5">Erysipelotrichia; Erysipelotrichales</text></g>
<g id="tip095" transform="translate(0,966.7)"><text class="nm" x="374" y="2.8"><tspan class="i">Faecalicoccus acidiformans</tspan> DSM 26963</text><text class="tx" x="578" y="2.5">Erysipelotrichia; Erysipelotrichales</text></g>
<g id="tip096" transform="translate(0,976.75)"><text class="nm" x="374" y="2.8"><tspan class="i">Absicoccus porci</tspan> YH-panp20</text><text class="tx" x="578" y="2.5">Erysipelotrichia; Erysipelotrichales</text></g>
<g id="tip097" transform="translate(0,986.8)"><text class="nm" x="374" y="2.8"><tspan class="i">Catenisphaera adipataccumulans</tspan> DSM 25799</text><text class="tx" x="578" y="2.5">Erysipelotrichia; Erysipelotrichales</text></g>
<g id="tip098" transform="translate(0,996.85)"><text class="nm" x="374" y="2.8"><tspan class="i">Floccifex porci</tspan> LKV-178-WT-2G</text><text class="tx" x="578" y="2.5">Erysipelotrichia; Erysipelotrichales</text></g>
<g id="tip099" transform="translate(0,1006.9)"><text class="nm" x="374" y="2.8"><tspan class="i">Holdemanella biformis</tspan> DSM 3989</text><text class="tx" x="578" y="2.5">Erysipelotrichia; Erysipelotrichales</text></g>
<g id="tip100" transform="translate(0,1016.95)"><text class="nm" x="374" y="2.8"><tspan class="i">Faecalitalea cylindroides</tspan> ATCC 27803</text><text class="tx" x="578" y="2.5">Erysipelotrichia; Erysipelotrichales</text></g>
</g>
<g id="legend">
<text class="lg" x="39" y="893">NCBI Taxonomy:</text>
<rect class="hp" x="30.5" y="902" width="11.5" height="12" stroke="#b9a3bd" stroke-width="0.6"/>
<text class="lg i" x="48.5" y="911">Mycoplasmatota</text>
<rect class="hg" x="30.5" y="920" width="11.5" height="12" stroke="#a3b9a3" stroke-width="0.6"/>
<text class="lg i" x="48.5" y="929">Coprobacillaceae</text>
<rect class="hy" x="30.5" y="937.5" width="11.5" height="12" stroke="#c9bc9c" stroke-width="0.6"/>
<text class="lg i" x="48.5" y="946.5">Erysipelotrichaceae</text>
<rect class="hr" x="30.5" y="955" width="11.5" height="12" stroke="#c99c9c" stroke-width="0.6"/>
<text class="lg i" x="48.5" y="964">Bulleidia</text>
</g>
<g id="scale">
<text x="49" y="1004.5" font-family="Liberation Sans, Arial, sans-serif" font-size="6.8" fill="#333">Tree scale: 0.2</text>
<path d="M54.3,1009.3H88.3M54.3,1007V1011.6M88.3,1007V1011.6M71.3,1008.3V1010.3" stroke="#555" stroke-width="0.8" fill="none"/>
</g>
</svg>
